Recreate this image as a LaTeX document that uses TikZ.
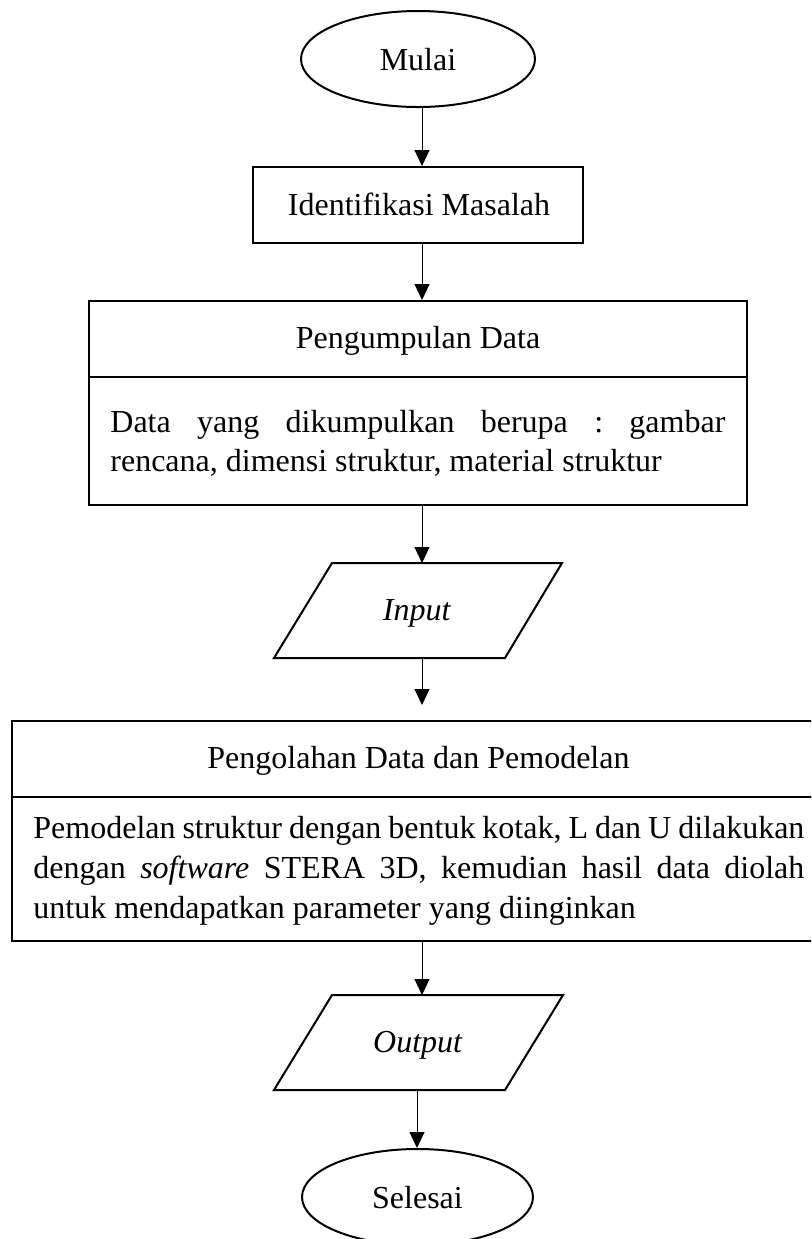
\documentclass[tikz,border=0pt]{standalone}
\usepackage{fontspec}
\setmainfont{Liberation Serif}
\usetikzlibrary{shapes.geometric,arrows.meta}
\begin{document}
\frenchspacing
\begin{tikzpicture}[x=0.5pt,y=-0.5pt,
  box/.style={draw,line width=1pt,inner sep=0pt,rectangle},
  term/.style={draw,line width=1pt,inner sep=0pt,ellipse},
  lbl/.style={inner sep=0pt,anchor=base,font=\fontsize{16pt}{20pt}\selectfont},
  lblw/.style={lbl,anchor=base west},
  flow/.style={line width=0.5pt,-{Triangle[length=8pt,width=7.5pt]}},
  io/.style={draw,line width=1pt,line join=miter}
]
\clip (0,0) rectangle (811,1239);
\fill[white] (0,0) rectangle (811,1239);
\coordinate (ax) at (422,0);
\coordinate (axb) at (417,0);

% Mulai
\node[term,minimum width=117pt,minimum height=48pt] (mulai) at (418,59) {};
\node[lbl] (tmulai) at (418,70.7) {Mulai};

% Identifikasi
\node[box,minimum width=165pt,minimum height=38pt] (ident) at (418,205) {};
\node[lbl] (tident) at (419,215) {Identifikasi Masalah};

% Pengumpulan Data
\node[box,minimum width=329pt,minimum height=38pt] (penghead) at (418,339) {};
\node[box,minimum width=329pt,minimum height=64pt] (pengbody) at (418,441) {};
\node[lbl] (tpenghead) at (418,348) {Pengumpulan Data};
\node[lblw] (tpeng1) at (110,432) {\makebox[307.5pt][s]{Data yang dikumpulkan berupa : gambar}};
\node[lblw] (tpeng2) at (110,471) {rencana, dimensi struktur, material struktur};

% Input
\draw[io] (332,563) -- (562,563) -- (505,658) -- (274,658) -- cycle;
\coordinate (inTop) at (422,563);
\coordinate (inBot) at (422,658);
\node[lbl] (tinput) at (417,620) {\textit{Input}};

% Pengolahan
\node[box,minimum width=406.5pt,minimum height=38pt] (olahhead) at (418.5,759) {};
\node[box,minimum width=406.5pt,minimum height=72pt] (olahbody) at (418.5,869) {};
\node[lbl] (tolahhead) at (418.5,768) {Pengolahan Data dan Pemodelan};
\node[lblw] (tolah1) at (33,838) {\makebox[385.5pt][s]{Pemodelan struktur dengan bentuk kotak, L dan U dilakukan}};
\node[lblw] (tolah2) at (33,878) {\makebox[385.5pt][s]{dengan \textit{software} STERA 3D, kemudian hasil data diolah}};
\node[lblw] (tolah3) at (33,918) {untuk mendapatkan parameter yang diinginkan};
\coordinate (arrEnd) at (422,705);

% Output
\draw[io] (332,995) -- (563,995) -- (505,1090) -- (274,1090) -- cycle;
\coordinate (outTop) at (422,995);
\coordinate (outBot) at (417,1090);
\node[lbl] (toutput) at (418,1052) {\textit{Output}};

% Selesai
\node[term,minimum width=115.5pt,minimum height=48pt] (selesai) at (417.5,1197) {};
\node[lbl] (tselesai) at (417.5,1208) {Selesai};

% connectors
\draw[flow] (mulai.south -| ax) -- (ident.north -| ax);
\draw[flow] (ident.south -| ax) -- (penghead.north -| ax);
\draw[flow] (pengbody.south -| ax) -- (inTop);
\draw[flow] (inBot) -- (arrEnd);
\draw[flow] (olahbody.south -| ax) -- (outTop);
\draw[flow] (outBot) -- (selesai.north -| axb);
\end{tikzpicture}
\end{document}
